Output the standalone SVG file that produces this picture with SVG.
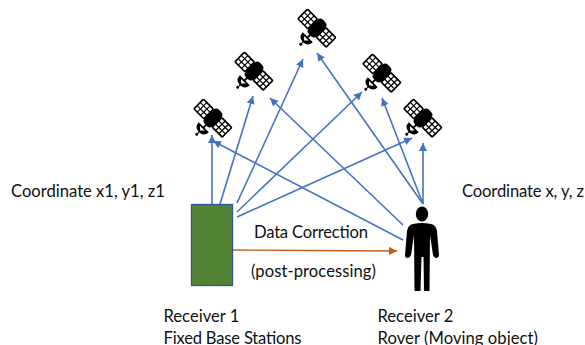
<svg xmlns="http://www.w3.org/2000/svg" width="585" height="345" viewBox="0 0 585 345">
<style>
text{font-family:Lato,"Liberation Sans",sans-serif;font-size:16.600px;fill:#111}
.c{fill:none;stroke:#4472c4;stroke-width:1.600}
.o{fill:none;stroke:#c55a11;stroke-width:1.400}
.p{fill:#fff;stroke:#000;stroke-width:1.700}
.g{fill:none;stroke:#000;stroke-width:1.200}
</style>
<defs>
<marker id="b" markerUnits="userSpaceOnUse" markerWidth="9" markerHeight="9" refX="8" refY="4" orient="auto"><path d="M0 0L8 4L0 8Z" fill="#4472c4"/></marker>
<marker id="r" markerUnits="userSpaceOnUse" markerWidth="9" markerHeight="9" refX="8" refY="4" orient="auto"><path d="M0 0L8 4L0 8Z" fill="#c55a11"/></marker>
<g id="sat">
<g transform="rotate(45)">
<rect class="p" x="-20" y="-6.500" width="14" height="13.500" rx="1"/>
<rect class="p" x="6" y="-6.500" width="14" height="13.500" rx="1"/>
<path class="g" d="M-15.300-6.500V7M-10.700-6.500V7M-20-2H-6M-20 2.500H-6M10.700-6.500V7M15.300-6.500V7M6-2H20M6 2.500H20"/>
<rect x="-5.500" y="-10" width="11" height="20" rx="4" fill="#000"/>
<path d="M-7 13L7 13Q7 19.500 0.500 20L0.500 22L-0.500 22L-0.500 20Q-7 19.500 -7 13Z" fill="#000"/>
<path d="M-3.500 14.800L3 14.800L-0.200 18Z" fill="#fff"/>
<circle cx="0" cy="23" r="1.500" fill="#000"/>
<path d="M0 9V14" stroke="#000" stroke-width="2"/>
</g>
</g>
</defs>
<g id="connectors">
<path class="c" marker-end="url(#b)" d="M212 204L212 135"/>
<path class="c" marker-end="url(#b)" d="M220 204L253 96"/>
<path class="c" marker-end="url(#b)" d="M237 203L303 59"/>
<path class="c" marker-end="url(#b)" d="M237 212L362 92"/>
<path class="c" marker-end="url(#b)" d="M237 217L412 138"/>
<path class="c" marker-end="url(#b)" d="M423 204L423 143"/>
<path class="c" marker-end="url(#b)" d="M423 204L382 98"/>
<path class="c" marker-end="url(#b)" d="M423 204L317 53"/>
<path class="c" marker-end="url(#b)" d="M403 225L270 98"/>
<path class="c" marker-end="url(#b)" d="M403 240L213 141"/>
<path class="o" marker-end="url(#r)" d="M233 250L397 251"/>
</g>
<g id="sat-1"><use href="#sat" transform="translate(213 118)"/></g>
<g id="sat-2"><use href="#sat" transform="translate(254 71)"/></g>
<g id="sat-3"><use href="#sat" transform="translate(317 28)"/></g>
<g id="sat-4"><use href="#sat" transform="translate(382 73)"/></g>
<g id="sat-5"><use href="#sat" transform="translate(423 118)"/></g>
<g id="base"><rect x="191.500" y="204.500" width="41" height="81" fill="#548235" stroke="#2f5597" stroke-width="1.300"/></g>
<g id="person">
<ellipse cx="422" cy="214" rx="6.200" ry="7.500" fill="#000"/>
<path fill="#000" d="M413 224Q422 222 431 224Q436 225 437 231L439 255Q439 258 436 258Q434 258 433 255L430 235L429.500 291L424 291L423.500 257L421.500 257L420.500 291L414.500 291L414 235L411 255Q410 258 408 258Q405 258 405 255L407 231Q408 225 413 224Z"/>
</g>
<g id="labels">
<text x="11" y="197">Coordinate x1, y1, z1</text>
<text x="462" y="197" textLength="122">Coordinate x, y, z</text>
<text x="254" y="238" textLength="114">Data Correction</text>
<text x="251" y="277" textLength="125">(post-processing)</text>
<text x="163.500" y="322">Receiver 1</text>
<text x="163.500" y="343.500" textLength="138">Fixed Base Stations</text>
<text x="377.500" y="322">Receiver 2</text>
<text x="377.500" y="343.500" textLength="160.500">Rover (Moving object)</text>
</g>
</svg>
